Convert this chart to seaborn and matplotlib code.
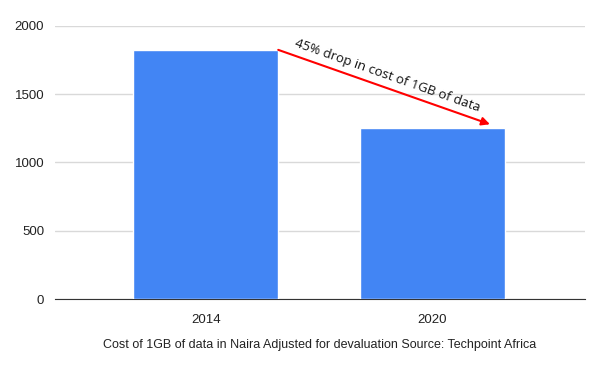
import matplotlib
matplotlib.use("Agg")
import matplotlib.pyplot as plt
import seaborn as sns
import pandas as pd

# Cost of 1GB of data (Naira, adjusted for devaluation)
years = ["2014", "2020"]
cost = [1825, 1255]
y_ticks = [0, 500, 1000, 1500, 2000]

df = pd.DataFrame({"Year": years, "Cost": cost})

sns.set_style("white")
plt.rcParams["font.family"] = ["Liberation Sans", "DejaVu Sans"]

fig = plt.figure(figsize=(6, 3.71), dpi=100)
ax = fig.add_axes([0.092, 0.194, 0.883, 0.736])

sns.barplot(data=df, x="Year", y="Cost", color="#4285F4", saturation=1,
            width=0.64, ax=ax, zorder=3)

ax.set_ylim(0, 2000)
ax.set_xlim(-0.663, 1.672)
ax.set_yticks(y_ticks)
ax.yaxis.grid(True, color="#d9d9d9", linewidth=1, zorder=0)
ax.set_axisbelow(True)
for side in ["top", "right", "left"]:
    ax.spines[side].set_visible(False)
ax.spines["bottom"].set_color("#333333")
ax.tick_params(axis="both", length=0, labelsize=9.5, colors="#222222")
ax.tick_params(axis="y", pad=8)
ax.tick_params(axis="x", pad=11)
ax.set_ylabel("")
ax.set_xlabel("Cost of 1GB of data in Naira Adjusted for devaluation Source: Techpoint Africa",
              fontsize=9, color="#222222", labelpad=9)

# red arrow from the 2014 bar to the 2020 bar
ax.annotate("", xy=(1.253, cost[1] + 25), xytext=(0.32, cost[0]),
            arrowprops=dict(arrowstyle="-|>", color="red", lw=1.5,
                            mutation_scale=12, shrinkA=0, shrinkB=0),
            zorder=5)
ax.text(0.80, 1638, "45% drop in cost of 1GB of data", rotation=-19.5,
        rotation_mode="anchor", ha="center", va="center", fontsize=9.5,
        color="#111111", family=["Open Sans", "DejaVu Sans"], zorder=6)

fig.savefig("out.png", dpi=100)
